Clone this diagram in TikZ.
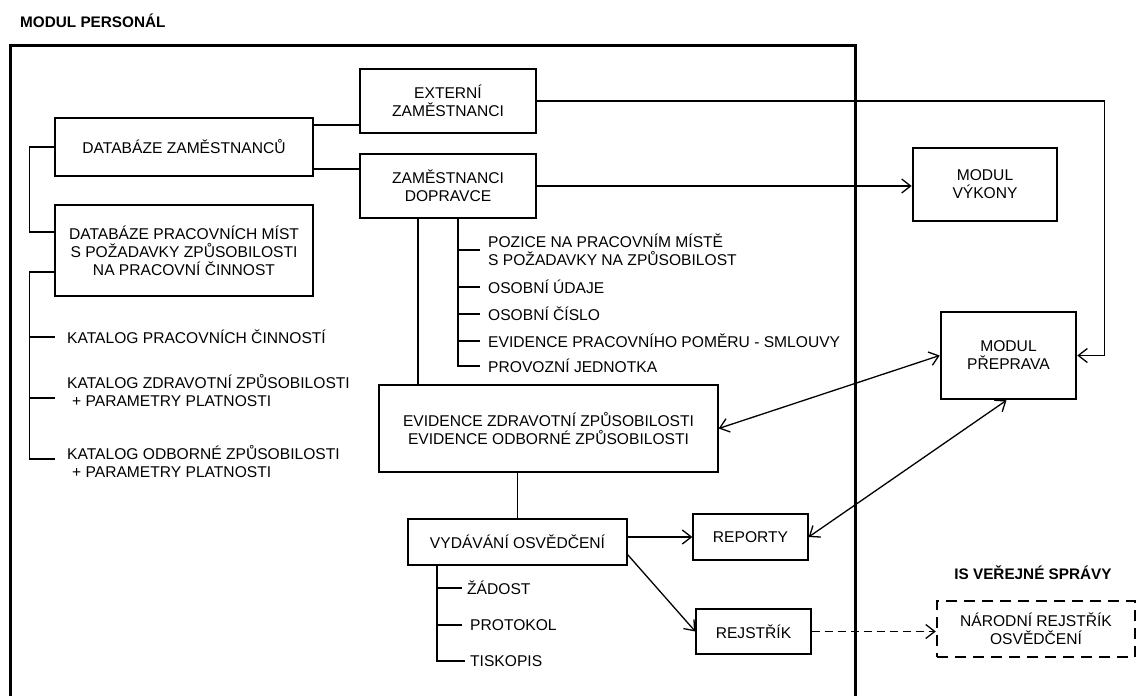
\documentclass[tikz,border=0pt]{standalone}
\usepackage{fontspec}
\setmainfont{Liberation Sans}
\usetikzlibrary{arrows.meta,calc}

\begin{document}
\begin{tikzpicture}[x=1pt,y=-1pt,
  every node/.style={font=\fontsize{15.6}{18}\selectfont, inner sep=0pt},
  box/.style={draw, line width=1.3pt, align=center},
  modbox/.style={draw, line width=2.6pt, align=center},
  extbox/.style={draw, line width=2.4pt, dash pattern=on 11pt off 7pt, align=center},
  item/.style={anchor=west, align=left},
  heading/.style={font=\fontsize{15.3}{17}\selectfont\bfseries},
  conn/.style={line width=1.3pt},
  arr/.style={conn, -{Straight Barb[length=9pt,width=14pt]}},
  dblarr/.style={conn, {Straight Barb[length=9pt,width=14pt]}-{Straight Barb[length=9pt,width=14pt]}},
  dasharr/.style={arr, dash pattern=on 8pt off 5pt},
  frame/.style={line width=3pt}
]
\useasboundingbox (0,0) rectangle (1138,696);

% module frame, open at the bottom
\draw[frame] (10,700) -- (10,45) -- (855,45) -- (855,700);
\node[heading, anchor=west] (title) at (20,21) {MODUL PERSONÁL};
\node[heading] (istitle) at (1033,573) {IS VEŘEJNÉ SPRÁVY};

% databases
\node[box, minimum width=258pt, minimum height=58pt] (dbz) at (184,147) {DATABÁZE ZAMĚSTNANCŮ};
\node[box, minimum width=258pt, minimum height=91pt] (dbp) at (184,250.5)
  {DATABÁZE PRACOVNÍCH MÍST\\S POŽADAVKY ZPŮSOBILOSTI\\NA PRACOVNÍ ČINNOST};

% employee groups
\node[box, minimum width=176pt, minimum height=64pt] (ext) at (448,101) {EXTERNÍ\\ZAMĚSTNANCI};
\node[box, minimum width=176pt, minimum height=64pt] (zd) at (448,186) {ZAMĚSTNANCI\\DOPRAVCE};

% other modules
\node[modbox, minimum width=144pt, minimum height=73pt] (vyk) at (985,184.5) {MODUL\\VÝKONY};
\node[modbox, minimum width=135pt, minimum height=87pt] (pre) at (1008.5,355.5) {MODUL\\PŘEPRAVA};

% records and outputs
\node[box, minimum width=339pt, minimum height=87pt] (evi) at (548.5,428.5)
  {EVIDENCE ZDRAVOTNÍ ZPŮSOBILOSTI\\EVIDENCE ODBORNÉ ZPŮSOBILOSTI};
\node[box, minimum width=219pt, minimum height=46pt] (vyd) at (517.5,542) {VYDÁVÁNÍ OSVĚDČENÍ};
\node[box, minimum width=115pt, minimum height=46pt] (rep) at (750.5,537) {REPORTY};
\node[box, minimum width=115pt, minimum height=45pt] (rej) at (753.5,631.5) {REJSTŘÍK};
\node[extbox, minimum width=198pt, minimum height=56pt] (nar) at (1036,629)
  {NÁRODNÍ REJSTŘÍK\\OSVĚDČENÍ};

% catalogues
\node[item] (k1) at (67,337) {KATALOG PRACOVNÍCH ČINNOSTÍ};
\node[item] (k2) at (67,391) {KATALOG ZDRAVOTNÍ ZPŮSOBILOSTI\\\hspace*{5pt}+ PARAMETRY PLATNOSTI};
\node[item] (k3) at (67,462) {KATALOG ODBORNÉ ZPŮSOBILOSTI\\\hspace*{5pt}+ PARAMETRY PLATNOSTI};

% employee data items
\node[item] (z1) at (488,250) {POZICE NA PRACOVNÍM MÍSTĚ\\S POŽADAVKY NA ZPŮSOBILOST};
\node[item] (z2) at (488,287) {OSOBNÍ ÚDAJE};
\node[item] (z3) at (488,314) {OSOBNÍ ČÍSLO};
\node[item] (z4) at (488,341) {EVIDENCE PRACOVNÍHO POMĚRU - SMLOUVY};
\node[item] (z5) at (488,366) {PROVOZNÍ JEDNOTKA};

% certificate documents
\node[item] (d1) at (467,588) {ŽÁDOST};
\node[item] (d2) at (470,625) {PROTOKOL};
\node[item] (d3) at (470,661) {TISKOPIS};

% database tree
\draw[conn] (dbz.west) -- ++(-25,0) |- ([yshift=18.5pt]dbp.west);
\draw[conn] ([yshift=-21.5pt]dbp.west) -- ++(-25,0) coordinate (kt) |- ([xshift=-12pt,yshift=3pt]k3.west);
\draw[conn] (kt |- k1.west) -- ([xshift=-12pt]k1.west);
\draw[conn] (kt |- 0,398) -- (55,398);

% employees
\draw[conn] ([yshift=22pt]dbz.east) coordinate (a1) -- (a1 -| ext.west);
\draw[conn] ([yshift=-22pt]dbz.east) coordinate (a2) -- (a2 -| zd.west);
\draw[arr] (ext.east) -- ++(568,0) |- (pre.east);
\draw[arr] (zd.east) -- (zd.east -| vyk.west);

% employee data tree
\draw[conn] ([xshift=10pt]zd.south) coordinate (zt) |- ([xshift=-8pt]z5.west);
\foreach \n in {z1,z2,z3,z4} \draw[conn] (zt |- \n.west) -- ([xshift=-8pt]\n.west);
\draw[conn] ([xshift=-30pt]zd.south) coordinate (ze) -- (ze |- evi.north);

% records, certificates and outputs
\draw[conn] (vyd.north) -- (vyd.north |- evi.south);
\draw[conn] ([xshift=-80.5pt]vyd.south) coordinate (vt) |- ([xshift=-5pt]d3.west);
\draw[conn] (vt |- d1.west) -- ([xshift=-5pt]d1.west);
\draw[conn] (vt |- d2.west) -- ([xshift=-8pt]d2.west);
\draw[arr] (vyd.east |- rep.west) -- (rep.west);
\draw[arr] ([yshift=11pt]vyd.south east) -- (rej.west);
\draw[dasharr] (rej.east) -- (rej.east -| nar.west);
\draw[dblarr] (evi.east) -- (pre.west);
\draw[dblarr] (rep.east) -- ([xshift=-2pt]pre.south);
\end{tikzpicture}
\end{document}
